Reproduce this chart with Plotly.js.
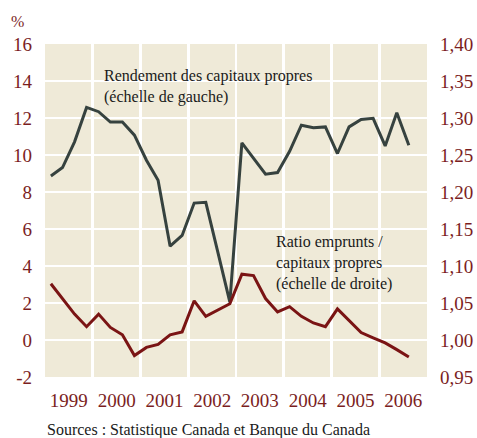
<!DOCTYPE html>
<html>
<head>
<meta charset="utf-8">
<script src="https://cdn.plot.ly/plotly-3.0.1.min.js"></script>
<style>html,body{margin:0;padding:0;background:#fff;}</style>
</head>
<body>
<div id="chart"></div>
<script>
// Quarters 1999 T1 .. 2006 T3
const quarters = ["1999-T1","1999-T2","1999-T3","1999-T4","2000-T1","2000-T2","2000-T3","2000-T4",
  "2001-T1","2001-T2","2001-T3","2001-T4","2002-T1","2002-T2","2002-T3","2002-T4",
  "2003-T1","2003-T2","2003-T3","2003-T4","2004-T1","2004-T2","2004-T3","2004-T4",
  "2005-T1","2005-T2","2005-T3","2005-T4","2006-T1","2006-T2","2006-T3"];
// Rendement des capitaux propres (%), left scale
const roe = [8.87, 9.32, 10.71, 12.57, 12.34, 11.78, 11.78, 11.07, 9.72, 8.63, 5.07, 5.65,
  7.40, 7.44, 4.75, 2.05, 10.66, 9.8, 8.96, 9.05, 10.2, 11.61, 11.47, 11.52,
  10.08, 11.52, 11.92, 11.98, 10.49, 12.28, 10.53];
// Ratio emprunts / capitaux propres, right scale
const ratio = [1.076, 1.056, 1.035, 1.018, 1.035, 1.017, 1.007, 0.979, 0.990, 0.994, 1.007, 1.011,
  1.053, 1.032, 1.041, 1.049, 1.089, 1.087, 1.056, 1.038, 1.045, 1.032, 1.023, 1.018,
  1.042, 1.026, 1.010, 1.003, 0.996, 0.987, 0.977];
const leftTicks = [-2, 0, 2, 4, 6, 8, 10, 12, 14, 16];
const rightTicks = [0.95, 1.00, 1.05, 1.10, 1.15, 1.20, 1.25, 1.30, 1.35, 1.40];

const midMonth = {T1: "02-15", T2: "05-15", T3: "08-15", T4: "11-15"};
const xDates = quarters.map(q => { const [y, t] = q.split("-"); return y + "-" + midMonth[t]; });

const lineRed = "#7a1414";
const lineDark = "#36423f";
const labelRed = "#7b1e1e";
const F = "Liberation Serif";

const traces = [
  {x: xDates, y: roe, type: "scatter", mode: "lines", yaxis: "y",
   line: {color: lineDark, width: 3}},
  {x: xDates, y: ratio, type: "scatter", mode: "lines", yaxis: "y2",
   line: {color: lineRed, width: 3}}
];

const layout = {
  width: 477, height: 438,
  margin: {l: 45, r: 50, t: 44, b: 61},
  plot_bgcolor: "#efead8",
  showlegend: false,
  font: {family: F, color: labelRed, size: 18},
  xaxis: {
    type: "date", range: ["1999-01-01", "2007-01-01"],
    dtick: "M12", tick0: "1999-01-01", tickformat: "%Y", ticklabelmode: "period",
    showgrid: true, gridcolor: "#ffffff", gridwidth: 2.5,
    ticks: "", showline: false, zeroline: false,
    tickfont: {family: F, size: 19, color: labelRed}, ticklabelstandoff: 10
  },
  yaxis: {
    range: [-2, 16], tickvals: leftTicks, ticktext: leftTicks.map(String),
    showgrid: true, gridcolor: "#ffffff", gridwidth: 2.5,
    zeroline: false, ticks: "", showline: false,
    tickfont: {family: F, size: 19, color: labelRed}, ticklabelstandoff: 12
  },
  yaxis2: {
    range: [0.95, 1.40], overlaying: "y", side: "right",
    tickvals: rightTicks, ticktext: rightTicks.map(v => v.toFixed(2).replace(".", ",")),
    showgrid: false, zeroline: false, ticks: "", showline: false,
    tickfont: {family: F, size: 19, color: labelRed}, ticklabelstandoff: 12
  },
  annotations: [
    {text: "Rendement des capitaux propres<br>(échelle de gauche)", xref: "paper", yref: "paper",
     x: 0.150, y: 0.937, xanchor: "left", yanchor: "top", align: "left", showarrow: false,
     font: {family: F, size: 16, color: "#1a1a1a"}},
    {text: "Ratio emprunts /<br>capitaux propres<br>(échelle de droite)", xref: "paper", yref: "paper",
     x: 0.600, y: 0.438, xanchor: "left", yanchor: "top", align: "left", showarrow: false,
     font: {family: F, size: 16, color: "#1a1a1a"}},
    {text: "Sources : Statistique Canada et Banque du Canada", xref: "paper", yref: "paper",
     x: 0.0, y: -0.159, xanchor: "left", yanchor: "middle", align: "left", showarrow: false,
     font: {family: F, size: 16, color: "#1a1a1a"}},
    {text: "%", xref: "paper", yref: "paper", x: -0.073, y: 1.069, xanchor: "center", yanchor: "middle",
     showarrow: false, font: {family: F, size: 16, color: labelRed}}
  ]
};

function forceSerif() {
  document.querySelectorAll("#chart text").forEach(t => {
    t.style.setProperty("font-family", "'Liberation Serif'", "important");
  });
}
Plotly.newPlot("chart", traces, layout, {staticPlot: true}).then(forceSerif);
forceSerif();
</script>
</body>
</html>
